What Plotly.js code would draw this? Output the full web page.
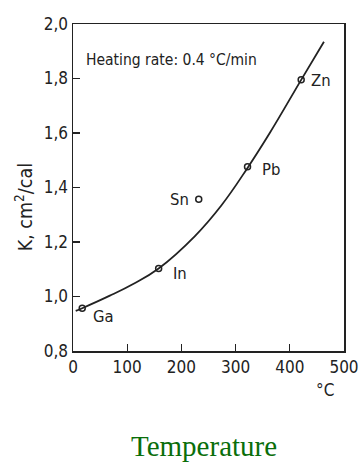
<!DOCTYPE html>
<html><head><meta charset="utf-8">
<script src="https://cdn.plot.ly/plotly-3.0.1.min.js"></script>
<style>html,body{margin:0;padding:0;background:#fff}#c{width:360px;height:463px}</style>
</head><body><div id="c"></div>
<script>
// fitted curve
const curveX = [5, 17, 68, 111, 158, 225, 274, 322, 363, 421, 463];
const curveY = [0.947, 0.957, 1.003, 1.046, 1.103, 1.222, 1.335, 1.472, 1.600, 1.795, 1.935];
// metals
const metals = ['Ga', 'In', 'Sn', 'Pb', 'Zn'];
const metalX = [17, 158, 232, 322, 421];
const metalY = [0.957, 1.103, 1.357, 1.476, 1.795];
const labelDx = [21, 21, -19, 23, 20];
const labelDy = [-8, -5, 0, -3, -1];
const yTicks = [0.8, 1.0, 1.2, 1.4, 1.6, 1.8, 2.0];
const yTickText = ['0,8', '1,0', '1,2', '1,4', '1,6', '1,8', '2,0'];
const xTicks = [0, 100, 200, 300, 400, 500];

const F = 'Liberation Sans Narrow, DejaVu Sans Condensed, Arial Narrow, sans-serif';
const ink = '#222';

const traces = [
  {x: curveX, y: curveY, mode: 'lines', line: {color: ink, width: 1.8, shape: 'spline', smoothing: 1.2}, hoverinfo: 'skip'},
  {x: metalX, y: metalY, mode: 'markers',
   marker: {symbol: 'circle-open', size: 6, color: ink, line: {width: 1.5, color: ink}}, hoverinfo: 'skip'}
];

const ann = [
  {text: 'Heating rate: 0.4 °C/min', xref: 'paper', yref: 'paper', x: 0.04, y: 0.89, xanchor: 'left', yanchor: 'middle',
   showarrow: false, font: {family: F, size: 15.5, color: ink}},
  {text: 'K, cm<sup>2</sup>/cal', xref: 'paper', yref: 'paper', x: -0.18, y: 0.44, textangle: -90, xanchor: 'center', yanchor: 'middle',
   showarrow: false, font: {family: F, size: 19.5, color: ink}},
  {text: '°C', xref: 'paper', yref: 'paper', x: 0.93, y: -0.12, xanchor: 'center', yanchor: 'middle',
   showarrow: false, font: {family: F, size: 17, color: ink}},
  {text: 'Temperature', xref: 'paper', yref: 'paper', x: 0.485, y: -0.292, xanchor: 'center', yanchor: 'middle',
   showarrow: false, font: {family: 'Liberation Serif, Times New Roman, serif', size: 29, color: '#0a6e0a'}}
];
metals.forEach((m, i) => ann.push({text: m, xref: 'x', yref: 'y', x: metalX[i], y: metalY[i], xshift: labelDx[i], yshift: labelDy[i],
  xanchor: 'center', yanchor: 'middle', showarrow: false, font: {family: F, size: 16.5, color: ink}}));

const layout = {
  width: 360, height: 463,
  margin: {l: 73, r: 16, t: 24, b: 112},
  paper_bgcolor: '#fff', plot_bgcolor: '#fff',
  showlegend: false,
  font: {family: F, color: ink},
  xaxis: {range: [0, 500], tickvals: xTicks, ticks: 'inside', ticklen: 7, tickwidth: 1.2, tickcolor: ink,
    showline: true, mirror: true, linecolor: ink, linewidth: 1.5, showgrid: false, zeroline: false,
    tickfont: {family: F, size: 17, color: ink}, fixedrange: true},
  yaxis: {range: [0.8, 2.0], tickvals: yTicks, ticktext: yTickText, ticks: 'inside', ticklen: 7, tickwidth: 1.2, tickcolor: ink,
    showline: true, mirror: true, linecolor: ink, linewidth: 1.5, showgrid: false, zeroline: false,
    tickfont: {family: F, size: 17, color: ink}, fixedrange: true},
  annotations: ann
};
Plotly.newPlot('c', traces, layout, {staticPlot: true, displayModeBar: false});
</script></body></html>
